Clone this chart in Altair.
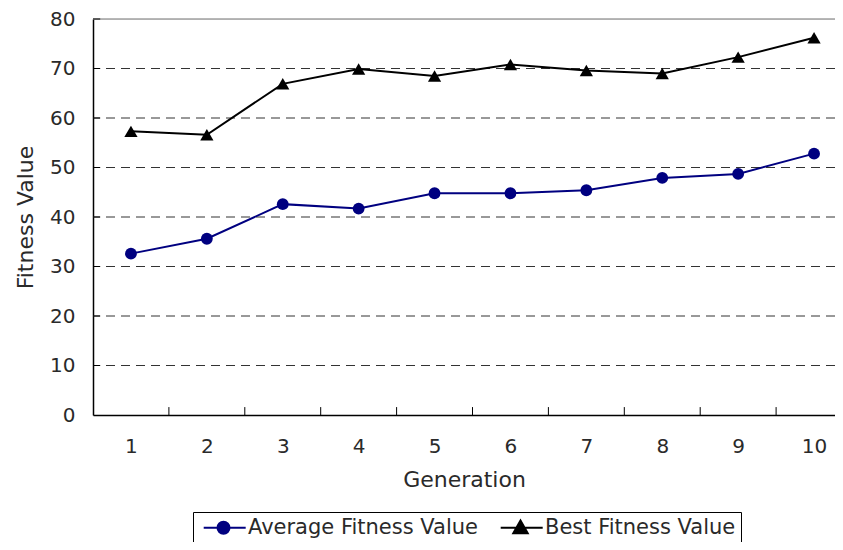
import altair as alt
import pandas as pd

generations = [1, 2, 3, 4, 5, 6, 7, 8, 9, 10]
avg_fitness = [32.6, 35.6, 42.6, 41.7, 44.8, 44.8, 45.4, 47.9, 48.7, 52.8]
best_fitness = [57.3, 56.6, 66.9, 69.9, 68.5, 70.8, 69.6, 69.0, 72.3, 76.2]
series_names = ["Average Fitness Value", "Best Fitness Value"]
series_colors = ["#000080", "#000000"]
y_ticks = [0, 10, 20, 30, 40, 50, 60, 70, 80]
grid_values = [10, 20, 30, 40, 50, 60, 70]
top_value = [80]
x_tick_marks = [1.5, 2.5, 3.5, 4.5, 5.5, 6.5, 7.5, 8.5, 9.5]
y_tick_marks = [10, 20, 30, 40, 50, 60, 70, 80]

rows = []
for g, a, b in zip(generations, avg_fitness, best_fitness):
    rows.append({"gen": g, "value": a, "series": series_names[0]})
    rows.append({"gen": g, "value": b, "series": series_names[1]})
df = pd.DataFrame(rows)

FONT = "DejaVu Sans"
TXT = "#2a2a2a"
XMIN, XMAX = 0.5, 10.276
xscale = alt.Scale(domain=[XMIN, XMAX], nice=False, zero=False)
yscale = alt.Scale(domain=[0, 80], nice=False)

avg_path = "M-0.8,0H6.2M3.5,0A1,1,0,1,1,1.5,0A1,1,0,1,1,3.5,0Z"
best_path = "M-0.8,0H6.2M2.5,-1.2L3.7,0.9L1.3,0.9Z"

grid = alt.Chart(pd.DataFrame({"v": grid_values})).mark_rule(
    color="#333333", strokeDash=[9, 6], strokeWidth=1
).encode(y=alt.Y("v:Q", scale=yscale))

top = alt.Chart(pd.DataFrame({"v": top_value})).mark_rule(
    color="#a0a0a0", strokeWidth=1.5
).encode(y=alt.Y("v:Q", scale=yscale))

xticks = alt.Chart(pd.DataFrame({"t": x_tick_marks, "y0": [0] * 9, "y1": [1.6] * 9})).mark_rule(
    color="#000000", strokeWidth=1
).encode(
    x=alt.X("t:Q", scale=xscale),
    y=alt.Y("y0:Q", scale=yscale),
    y2="y1:Q",
)

yticks = alt.Chart(pd.DataFrame({"v": y_tick_marks, "x0": [XMIN] * 8, "x1": [XMIN + 0.095] * 8})).mark_rule(
    color="#000000", strokeWidth=1
).encode(
    y=alt.Y("v:Q", scale=yscale),
    x=alt.X("x0:Q", scale=xscale),
    x2="x1:Q",
)

color_scale = alt.Scale(domain=series_names, range=series_colors)

base = alt.Chart(df).encode(
    x=alt.X(
        "gen:Q",
        scale=xscale,
        axis=alt.Axis(
            values=generations, format="d", title="Generation", grid=False, tickSize=0,
            labelPadding=21, titlePadding=13, domainColor="#000000", domainWidth=1.5,
            labelFont=FONT, labelFontSize=20, labelColor=TXT,
            titleFont=FONT, titleFontSize=22, titleFontWeight="normal", titleColor=TXT,
        ),
    ),
    y=alt.Y(
        "value:Q",
        scale=yscale,
        axis=alt.Axis(
            values=y_ticks, title="Fitness Value", grid=False, tickSize=0,
            labelPadding=18, titlePadding=12,
            domainColor="#000000", domainWidth=1.5,
            labelFont=FONT, labelFontSize=20, labelColor=TXT,
            titleFont=FONT, titleFontSize=22, titleFontWeight="normal", titleColor=TXT,
        ),
    ),
)

shape_expr = "datum.value === '" + series_names[0] + "' ? '" + avg_path + "' : '" + best_path + "'"
stroke_expr = "datum.value === '" + series_names[0] + "' ? '" + series_colors[0] + "' : '" + series_colors[1] + "'"

legend = alt.Legend(
    title=None, orient="none", legendX=100, legendY=493, direction="horizontal",
    strokeColor="#000000", fillColor="#ffffff", padding=5, cornerRadius=0,
    labelFont=FONT, labelFontSize=21, labelColor=TXT, labelLimit=400,
    labelOffset=29, columnPadding=17, symbolSize=144, symbolStrokeWidth=2,
    symbolOpacity=1,
    symbolType=alt.ExprRef(shape_expr),
    symbolStrokeColor=alt.ExprRef(stroke_expr),
)

lines = base.mark_line(strokeWidth=2).encode(
    color=alt.Color("series:N", scale=color_scale, legend=legend),
    detail="series:N",
)
pts_avg = base.transform_filter(alt.datum.series == series_names[0]).mark_point(
    filled=True, size=140, opacity=1, shape="circle"
).encode(color=alt.Color("series:N", scale=color_scale, legend=legend))
pts_best = base.transform_filter(alt.datum.series == series_names[1]).mark_point(
    filled=True, size=175, opacity=1, shape="triangle-up"
).encode(color=alt.Color("series:N", scale=color_scale, legend=legend))

chart = alt.layer(grid, top, xticks, yticks, lines, pts_avg, pts_best).properties(
    width=742, height=396,
    autosize=alt.AutoSizeParams(type="none"),
    padding={"left": 85, "top": 11, "right": 0, "bottom": 127},
).configure_view(stroke=None).configure(background="#ffffff")

chart.save("out.html", embed_options={"renderer": "svg", "actions": False})
